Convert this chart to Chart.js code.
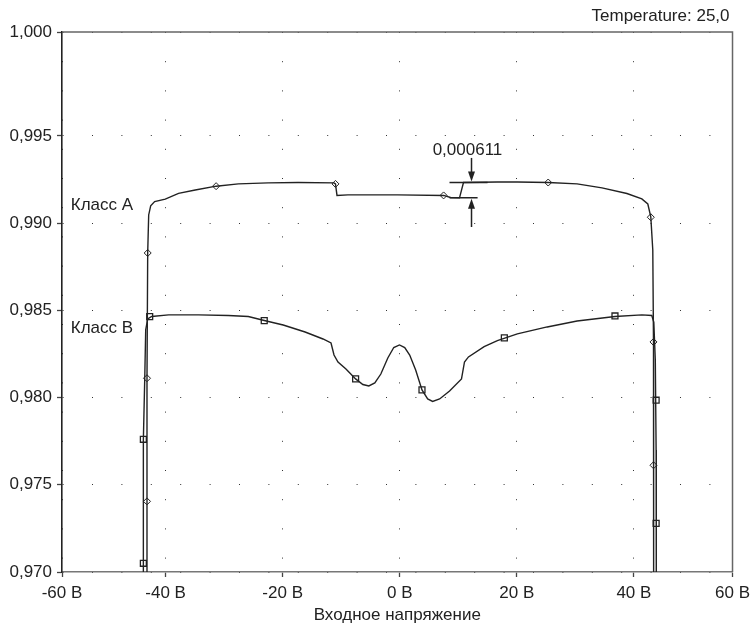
<!DOCTYPE html>
<html><head><meta charset="utf-8">
<script src="https://cdn.jsdelivr.net/npm/chart.js@4.4.1/dist/chart.umd.min.js"></script>
<style>html,body{margin:0;padding:0;background:#fff}#wrap{width:756px;height:627px}</style>
</head><body><div id="wrap"><canvas id="c" width="756" height="627"></canvas></div>
<script>
const FONT = '"Liberation Sans", Arial, Helvetica, sans-serif';

// axis ticks (first/last tick sit on the plot edges, as in the reference)
const xTickValues = [-60, -40, -20, 0, 20, 40, 60];
const xTickLabels = ['-60 В', '-40 В', '-20 В', '0 В', '20 В', '40 В', '60 В'];
const yTickValues = [0.970, 0.975, 0.980, 0.985, 0.990, 0.995, 1.000];
const yTickLabels = ['0,970', '0,975', '0,980', '0,985', '0,990', '0,995', '1,000'];
const xSpan = [-57.7, 56.85];
const ySpan = [0.970, 1.00096];

// Класс А curve
const classAX = [-43.23, -43.18, -43.18, -43.06, -42.89, -42.55, -41.87, -40.06, -37.79, -34.94, -31.37, -27.57, -22.47, -17.36, -11.23, -10.98, -10.72, -8.85, -0.34, 7.49, 8.68, 10.21, 10.89, 16.68, 20.09, 25.36, 30.30, 34.55, 38.81, 41.36, 42.38, 42.89, 43.23, 43.35, 43.35, 43.40];
const classAY = [0.96897, 0.97407, 0.98112, 0.98829, 0.99047, 0.99099, 0.99124, 0.99138, 0.99171, 0.99190, 0.99212, 0.99225, 0.99231, 0.99233, 0.99231, 0.99225, 0.99159, 0.99162, 0.99162, 0.99159, 0.99147, 0.99145, 0.99233, 0.99236, 0.99236, 0.99233, 0.99225, 0.99202, 0.99170, 0.99139, 0.99110, 0.99036, 0.98846, 0.98319, 0.97614, 0.96897];
const classAMarkX = [-43.06, -43.18, -43.18, -31.37, -10.98, 7.49, 25.36, 42.89, 43.35, 43.35];
const classAMarkY = [0.98829, 0.98111, 0.97405, 0.99212, 0.99225, 0.99159, 0.99233, 0.99034, 0.98319, 0.97612];

// Класс В curve
const classBX = [-43.80, -43.80, -43.57, -43.40, -43.06, -42.38, -39.49, -34.38, -29.28, -25.87, -23.15, -19.91, -16.17, -13.11, -11.74, -11.23, -10.55, -9.19, -7.54, -6.30, -5.28, -4.26, -3.23, -2.04, -1.02, -0.05, 0.85, 1.70, 2.72, 3.80, 4.77, 5.62, 6.81, 8.51, 10.55, 11.06, 11.74, 14.42, 16.68, 20.09, 25.19, 30.30, 36.77, 41.36, 43.06, 43.40, 43.66, 43.80, 43.83];
const classBY = [0.96897, 0.97757, 0.98101, 0.98388, 0.98451, 0.98465, 0.98474, 0.98474, 0.98471, 0.98465, 0.98442, 0.98416, 0.98376, 0.98336, 0.98313, 0.98244, 0.98204, 0.98164, 0.98107, 0.98075, 0.98067, 0.98084, 0.98135, 0.98227, 0.98287, 0.98302, 0.98287, 0.98244, 0.98158, 0.98044, 0.97992, 0.97978, 0.97992, 0.98038, 0.98107, 0.98204, 0.98233, 0.98292, 0.98327, 0.98365, 0.98405, 0.98439, 0.98465, 0.98474, 0.98471, 0.98433, 0.98216, 0.97700, 0.96897];
const classBMarkX = [-42.72, -23.15, -7.54, 3.80, 17.87, 36.77, -43.80, -43.80, 43.80, 43.80];
const classBMarkY = [0.98464, 0.98441, 0.98107, 0.98044, 0.98342, 0.98468, 0.97761, 0.97050, 0.97985, 0.97279];

// text labels & annotation
const seriesNames = ['Класс А', 'Класс В'];
const seriesLabelX = [-56.2, -56.2];
const seriesLabelY = [0.99104, 0.98399];
const chartNote = 'Temperature: 25,0';
const xTitle = 'Входное напряжение';
const deltaText = '0,000611';
const deltaTextPos = [11.57, 0.99420];
const deltaArrowX = 12.26;
const deltaLevels = [0.99233, 0.99145];           // upper / lower level
const deltaLevelSpanTop = [8.5, 15.0];
const deltaLevelSpanBottom = [8.5, 13.3];
const deltaArrowFrom = [0.99374, 0.98978];

const pts = (xs, ys) => xs.map((x, i) => ({x: x, y: ys[i]}));
const INK = '#222';

const extras = {
  id: 'extras',
  beforeDatasetsDraw(chart) {
    const {ctx, chartArea: a} = chart;
    ctx.save();
    ctx.strokeStyle = '#666';
    ctx.lineWidth = 1.5;
    ctx.beginPath();
    ctx.moveTo(a.left, a.top); ctx.lineTo(a.right, a.top); ctx.lineTo(a.right, a.bottom);
    ctx.stroke();
    ctx.restore();
  },
  afterDraw(chart) {
    const {ctx, chartArea: a, scales: {x, y}} = chart;
    ctx.save();
    ctx.fillStyle = INK;
    ctx.font = '17px ' + FONT;
    ctx.textBaseline = 'middle';
    ctx.textAlign = 'right';
    ctx.fillText(chartNote, a.right - 3, 16);
    ctx.textAlign = 'left';
    seriesNames.forEach((n, i) => ctx.fillText(n, x.getPixelForValue(seriesLabelX[i]), y.getPixelForValue(seriesLabelY[i])));
    // annotation
    ctx.textAlign = 'center';
    ctx.fillText(deltaText, x.getPixelForValue(deltaTextPos[0]), y.getPixelForValue(deltaTextPos[1]));
    ctx.strokeStyle = INK;
    ctx.lineWidth = 1.5;
    const ax = x.getPixelForValue(deltaArrowX);
    const yT = y.getPixelForValue(deltaLevels[0]);
    const yB = y.getPixelForValue(deltaLevels[1]);
    ctx.beginPath();
    ctx.moveTo(x.getPixelForValue(deltaLevelSpanTop[0]), yT); ctx.lineTo(x.getPixelForValue(deltaLevelSpanTop[1]), yT);
    ctx.moveTo(x.getPixelForValue(deltaLevelSpanBottom[0]), yB); ctx.lineTo(x.getPixelForValue(deltaLevelSpanBottom[1]), yB);
    ctx.stroke();
    const arrow = (fromY, tipY) => {
      const dir = Math.sign(tipY - fromY);
      ctx.beginPath();
      ctx.moveTo(ax, fromY); ctx.lineTo(ax, tipY - dir * 8);
      ctx.stroke();
      ctx.beginPath();
      ctx.moveTo(ax, tipY); ctx.lineTo(ax - 3.5, tipY - dir * 10); ctx.lineTo(ax + 3.5, tipY - dir * 10);
      ctx.closePath(); ctx.fill();
    };
    arrow(y.getPixelForValue(deltaArrowFrom[0]), yT - 1);
    arrow(y.getPixelForValue(deltaArrowFrom[1]), yB + 1);
    ctx.restore();
  }
};

const edgeTicks = (values) => (scale) => {
  scale.ticks = values.map((v, i) => ({value: i === 0 ? scale.min : (i === values.length - 1 ? scale.max : v)}));
};

Chart.defaults.font.family = FONT;
Chart.defaults.font.size = 17;
Chart.defaults.color = INK;

new Chart(document.getElementById('c'), {
  type: 'scatter',
  data: {
    datasets: [
      {data: pts(classAX, classAY), showLine: true, borderColor: INK, borderWidth: 1.4, pointRadius: 0, tension: 0},
      {data: pts(classBX, classBY), showLine: true, borderColor: INK, borderWidth: 1.4, pointRadius: 0, tension: 0},
      {data: pts(classAMarkX, classAMarkY), showLine: false, pointStyle: 'rectRot', pointRadius: 3.5, borderWidth: 1, borderColor: INK, backgroundColor: '#fff'},
      {data: pts(classBMarkX, classBMarkY), showLine: false, pointStyle: 'rect', pointRadius: 4.2, borderWidth: 1.3, borderColor: INK, backgroundColor: '#fff'}
    ]
  },
  options: {
    responsive: false,
    animation: false,
    devicePixelRatio: 1,
    layout: {padding: {left: 0, top: 32, right: 21, bottom: 0}},
    plugins: {legend: {display: false}, title: {display: false}, tooltip: {enabled: false}},
    scales: {
      x: {
        type: 'linear', min: xSpan[0], max: xSpan[1],
        afterBuildTicks: edgeTicks(xTickValues),
        afterFit: (s) => { s.height = 55; },
        ticks: {autoSkip: false, maxRotation: 0, padding: 6, color: INK, callback: (v, i) => xTickLabels[i]},
        grid: {color: '#333', lineWidth: 1, tickLength: 5, tickColor: '#444', tickWidth: 1.3},
        border: {display: true, color: '#777', width: 1.6, dash: [1, 28.2]},
        title: {display: true, text: xTitle, color: INK, font: {size: 17}, padding: {top: 0, bottom: 1}}
      },
      y: {
        type: 'linear', min: ySpan[0], max: ySpan[1],
        afterBuildTicks: edgeTicks(yTickValues),
        afterFit: (s) => { s.width = 62; },
        ticks: {autoSkip: false, padding: 5, color: INK, callback: (v, i) => yTickLabels[i]},
        grid: {color: '#333', lineWidth: 1, tickLength: 5, tickColor: '#444', tickWidth: 1.3},
        border: {display: true, color: '#222', width: 1.6, dash: [1, 28.4]}
      }
    }
  },
  plugins: [extras]
});
</script></body></html>
